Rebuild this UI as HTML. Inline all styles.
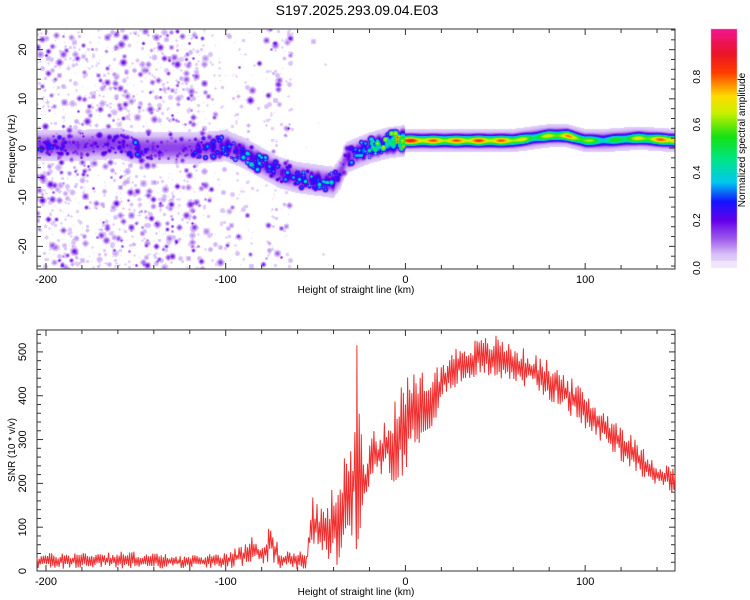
<!DOCTYPE html>
<html><head><meta charset="utf-8">
<style>
body{margin:0;background:#fff;width:750px;height:600px;overflow:hidden;font-family:"Liberation Sans",sans-serif}
#wrap{position:relative;width:750px;height:600px}
canvas,svg{position:absolute;left:0;top:0}
</style></head>
<body>
<div id="wrap">
<canvas id="spec" width="750" height="600"></canvas>
<svg id="svg" width="750" height="600"></svg>
</div>
<script>
// ---- data ----
const ridgeHeights=[-205,-200,-180,-160,-150,-130,-115,-100,-90,-80,-70,-60,-50,-40,-36,-33,-30,-20,-10,0,20,40,60,70,80,90,100,110,130,150];
const ridgeFreqs=[0.5,0.5,0.5,1,0,0,0,0.5,-1,-3,-5,-6,-6.5,-7,-5,-2,-1.5,0,1,1.5,1.5,1.5,1.5,2,2.5,2.5,1.5,1.5,2,1.5];
const ridgeAmps=[0.25,0.3,0.2,0.22,0.3,0.12,0.3,0.35,0.35,0.4,0.3,0.35,0.4,0.35,0.2,0.25,0.3,0.5,0.6,0.9,0.8,0.85,0.8,0.6,0.7,0.8,0.7,0.5,0.7,0.9];
const snrHeights=[-205,-180,-150,-120,-100,-90,-85,-80,-75,-70,-60,-55,-52,-45,-40,-35,-30,-27,-25,-22,-20,-15,-10,-5,0,5,10,15,20,25,30,40,50,60,70,80,90,100,110,120,130,140,150];
const snrLow=[5,5,5,5,5,10,20,10,20,5,0,0,60,20,10,20,30,50,40,150,200,230,200,180,230,280,300,330,380,400,420,440,440,430,410,390,360,320,290,250,220,190,170];
const snrHigh=[40,45,45,35,45,60,90,60,110,50,45,50,170,140,200,250,300,515,350,250,340,300,380,410,440,450,460,460,480,500,520,530,540,520,500,480,450,410,370,340,290,250,240];
const xTicks=[-200,-100,0,100];
const freqTicks=[-20,-10,0,10,20];
const snrTicks=[0,100,200,300,400,500];
const cbTicks=[0,0.2,0.4,0.6,0.8];

// ---- axes ----
const X0=37,X1=675,xmin=-205,xmax=150;
const xs=v=>X0+(v-xmin)/(xmax-xmin)*(X1-X0);
const T0=29,T1=269,fmin=-24.6,fmax=24.2;
const fy=v=>T1-(v-fmin)/(fmax-fmin)*(T1-T0);
const B0=330,B1=571,smin=0,smax=550;
const sy=v=>B1-(v-smin)/(smax-smin)*(B1-B0);
const CB={x:711,y:29,w:26,h:239};

function interp(xa,ya,x){if(x<=xa[0])return ya[0];for(let i=1;i<xa.length;i++){if(x<=xa[i]){const t=(x-xa[i-1])/(xa[i]-xa[i-1]);return ya[i-1]+t*(ya[i]-ya[i-1]);}}return ya[ya.length-1];}
let seed=12345;function rnd(){seed=(seed*1103515245+12345)&0x7fffffff;return seed/0x7fffffff;}

const stops=[[0,[240,230,252]],[0.06,[215,190,248]],[0.12,[160,95,235]],[0.2,[100,0,235]],[0.28,[20,20,255]],[0.36,[0,200,240]],[0.46,[0,230,130]],[0.55,[20,225,20]],[0.65,[200,240,0]],[0.72,[255,220,0]],[0.82,[255,60,0]],[0.9,[235,20,40]],[1,[240,20,140]]];
function cmap(v){v=Math.max(0,Math.min(1,v));for(let i=1;i<stops.length;i++){if(v<=stops[i][0]){const a=stops[i-1],b=stops[i],t=(v-a[0])/(b[0]-a[0]);return a[1].map((c,k)=>Math.round(c+t*(b[1][k]-c)));}}return stops[stops.length-1][1];}

// ---- spectrogram ----
const cv=document.getElementById('spec'),ctx=cv.getContext('2d');
const W=X1-X0,H=T1-T0;
const field=new Float32Array(W*H);
function blob(px,py,r,a){
  const R=Math.ceil(r*1.8);
  for(let dy=-R;dy<=R;dy++)for(let dx=-R;dx<=R;dx++){
    const X=Math.round(px+dx),Y=Math.round(py+dy);if(X<0||Y<0||X>=W||Y>=H)continue;
    const v=a*Math.exp(-(dx*dx+dy*dy)/(r*r));
    field[Y*W+X]=Math.max(field[Y*W+X],v);}
}
// background speckle (texture)
for(let k=0;k<5000;k++){
  const px=rnd()*W;const h=xmin+px/W*(xmax-xmin);
  let dens=0;
  if(h<-115)dens=1;else if(h<-85)dens=0.45;else if(h<-78)dens=0.1;else if(h<-63)dens=0.55;else if(h<-40)dens=0.03;else dens=0;
  const py=rnd()*H;const r=1.2+rnd()*2.2;const q=rnd();const a=0.035+q*q*q*q*0.18;
  if(rnd()>dens)continue;
  blob(px,py,r,a);
}
// ridge spots
for(let X=0;X<W;X+=2){
  const h=xmin+(X+0.5)/W*(xmax-xmin);
  if(h>0)break;
  const f0=interp(ridgeHeights,ridgeFreqs,h),amp=interp(ridgeHeights,ridgeAmps,h);
  for(let j=0;j<2;j++){
    const f=f0+(rnd()-0.5)*4;
    blob(X,(fmax-f)/(fmax-fmin)*H,1.5+rnd()*2.2,amp*(0.55+rnd()*0.75));
  }
}
for(let X=0;X<W;X++){
  const h=xmin+(X+0.5)/W*(xmax-xmin);
  const f0=interp(ridgeHeights,ridgeFreqs,h),amp=interp(ridgeHeights,ridgeAmps,h);
  const wob=h<0?(0.6+0.25*Math.sin(h*0.37)*Math.sin(h*1.13)):(0.9+0.1*Math.sin(h*0.5));
  for(let Y=0;Y<H;Y++){
    const f=fmax-(Y+0.5)/H*(fmax-fmin);
    const sig=h<0?1.3:0.75;
    const d=(f-f0)/sig;
    let v=amp*wob*Math.exp(-d*d/2);
    const halo=0.16*Math.exp(-Math.pow((f-f0)/(h<0?1.8:1.3),2)/2);
    const halo2=0.045*Math.exp(-Math.pow((f-f0)/(h<0?3.0:2.4),2)/2);
    v=Math.max(v,halo*(h<0?0.9:1),halo2);
    field[Y*W+X]=Math.max(field[Y*W+X],v);
  }
}
const img=ctx.createImageData(W,H);
for(let i=0;i<W*H;i++){const v=field[i];let c=[255,255,255];if(v>0.03)c=cmap(v);img.data[i*4]=c[0];img.data[i*4+1]=c[1];img.data[i*4+2]=c[2];img.data[i*4+3]=255;}
ctx.putImageData(img,X0,T0);
// colorbar
for(let y=0;y<CB.h;y++){const v=1-y/CB.h;const c=v<0.03?[240,230,252]:cmap(v);ctx.fillStyle=`rgb(${c})`;ctx.fillRect(CB.x,CB.y+y,CB.w,1);}

// ---- svg overlay ----
const NS='http://www.w3.org/2000/svg',svg=document.getElementById('svg');
function mk(tag,at,parent){const e=document.createElementNS(NS,tag);for(const k in at)e.setAttribute(k,at[k]);(parent||svg).appendChild(e);return e;}
function txt(s,x,y,at){const e=mk('text',Object.assign({x:x,y:y,'font-size':11,'font-family':'Liberation Sans, sans-serif',fill:'#000'},at||{}));e.textContent=s;return e;}

const title=txt('S197.2025.293.09.04.E03',357,15,{'text-anchor':'middle','font-size':14});



function frame(y0,y1,name){
  const r=mk('rect',{x:X0,y:y0,width:X1-X0,height:y1-y0,fill:'none',stroke:'#333','stroke-width':1});
  
  
  for(let v=-200;v<=150;v+=20){const x=xs(v);const L=v%100===0?6:4;
    mk('line',{x1:x,y1:y1,x2:x,y2:y1-L,stroke:'#333'});mk('line',{x1:x,y1:y0,x2:x,y2:y0+L,stroke:'#333'});}
  xTicks.forEach(v=>{const t=txt(String(v),xs(v),y1+14,{'text-anchor':'middle'});
    
    });
  const xl=txt('Height of straight line (km)',356,y1+24,{'text-anchor':'middle','font-size':10});
  
  
}
frame(T0,T1,'spectrogram-frame');
frame(B0,B1,'snr-frame');
for(let v=-24;v<=24;v+=2){const y=fy(v);const L=v%10===0?6:4;mk('line',{x1:X0,y1:y,x2:X0+L,y2:y,stroke:'#333'});mk('line',{x1:X1,y1:y,x2:X1-L,y2:y,stroke:'#333'});}
freqTicks.forEach(v=>{const t=txt(String(v),26,fy(v),{'text-anchor':'middle',transform:`rotate(-90 26 ${fy(v)})`});
  
  });
const yl1=txt('Frequency (Hz)',15,149,{'text-anchor':'middle','font-size':10,transform:'rotate(-90 15 149)'});


for(let v=0;v<=540;v+=20){const y=sy(v);const L=v%100===0?6:4;mk('line',{x1:X0,y1:y,x2:X0+L,y2:y,stroke:'#333'});mk('line',{x1:X1,y1:y,x2:X1-L,y2:y,stroke:'#333'});}
snrTicks.forEach(v=>{const t=txt(String(v),26,sy(v),{'text-anchor':'middle',transform:`rotate(-90 26 ${sy(v)})`});
  
  });
const yl2=txt('SNR (10 * v/v)',15,450,{'text-anchor':'middle','font-size':10,transform:'rotate(-90 15 450)'});



// SNR line
let d='';seed=777;
const NP=Math.round((X1-X0)*0.95);
const step=(xmax-xmin)/NP;
let first=true;
for(let px=0;px<=NP;px++){
  const h=xmin+px/NP*(xmax-xmin);
  const lo=interp(snrHeights,snrLow,h),hi=interp(snrHeights,snrHigh,h);
  const r=rnd();const t=(px%2===0)?0.6+0.4*r:0.4*r;
  const v=lo+(hi-lo)*t;
  d+=(first?'M':'L')+xs(h).toFixed(1)+' '+sy(v).toFixed(1);first=false;
  // include local peaks of the upper envelope exactly
  for(let i=1;i<snrHeights.length-1;i++){
    const hh=snrHeights[i];
    if(hh>h&&hh<=h+step&&snrHigh[i]>snrHigh[i-1]+100&&snrHigh[i]>snrHigh[i+1]+100){
      d+='L'+xs(hh-0.3).toFixed(1)+' '+sy(snrLow[i]).toFixed(1)+'L'+xs(hh).toFixed(1)+' '+sy(snrHigh[i]).toFixed(1);
    }
  }
}
const line=mk('path',{d:d,fill:'none',stroke:'#f03030','stroke-width':1});



// colorbar ticks
const cbr=mk('rect',{x:CB.x,y:CB.y,width:CB.w,height:CB.h,fill:'none',stroke:'none'});


cbTicks.forEach(v=>{const y=CB.y+CB.h*(1-v);
  const t=txt(v.toFixed(1),700,y,{'text-anchor':'middle','font-size':10,transform:`rotate(-90 700 ${y})`});
  
  });
const cbt=txt('Normalized spectral amplitude',745,140,{'text-anchor':'middle','font-size':10,transform:'rotate(-90 745 140)'});


</script>
</body></html>
